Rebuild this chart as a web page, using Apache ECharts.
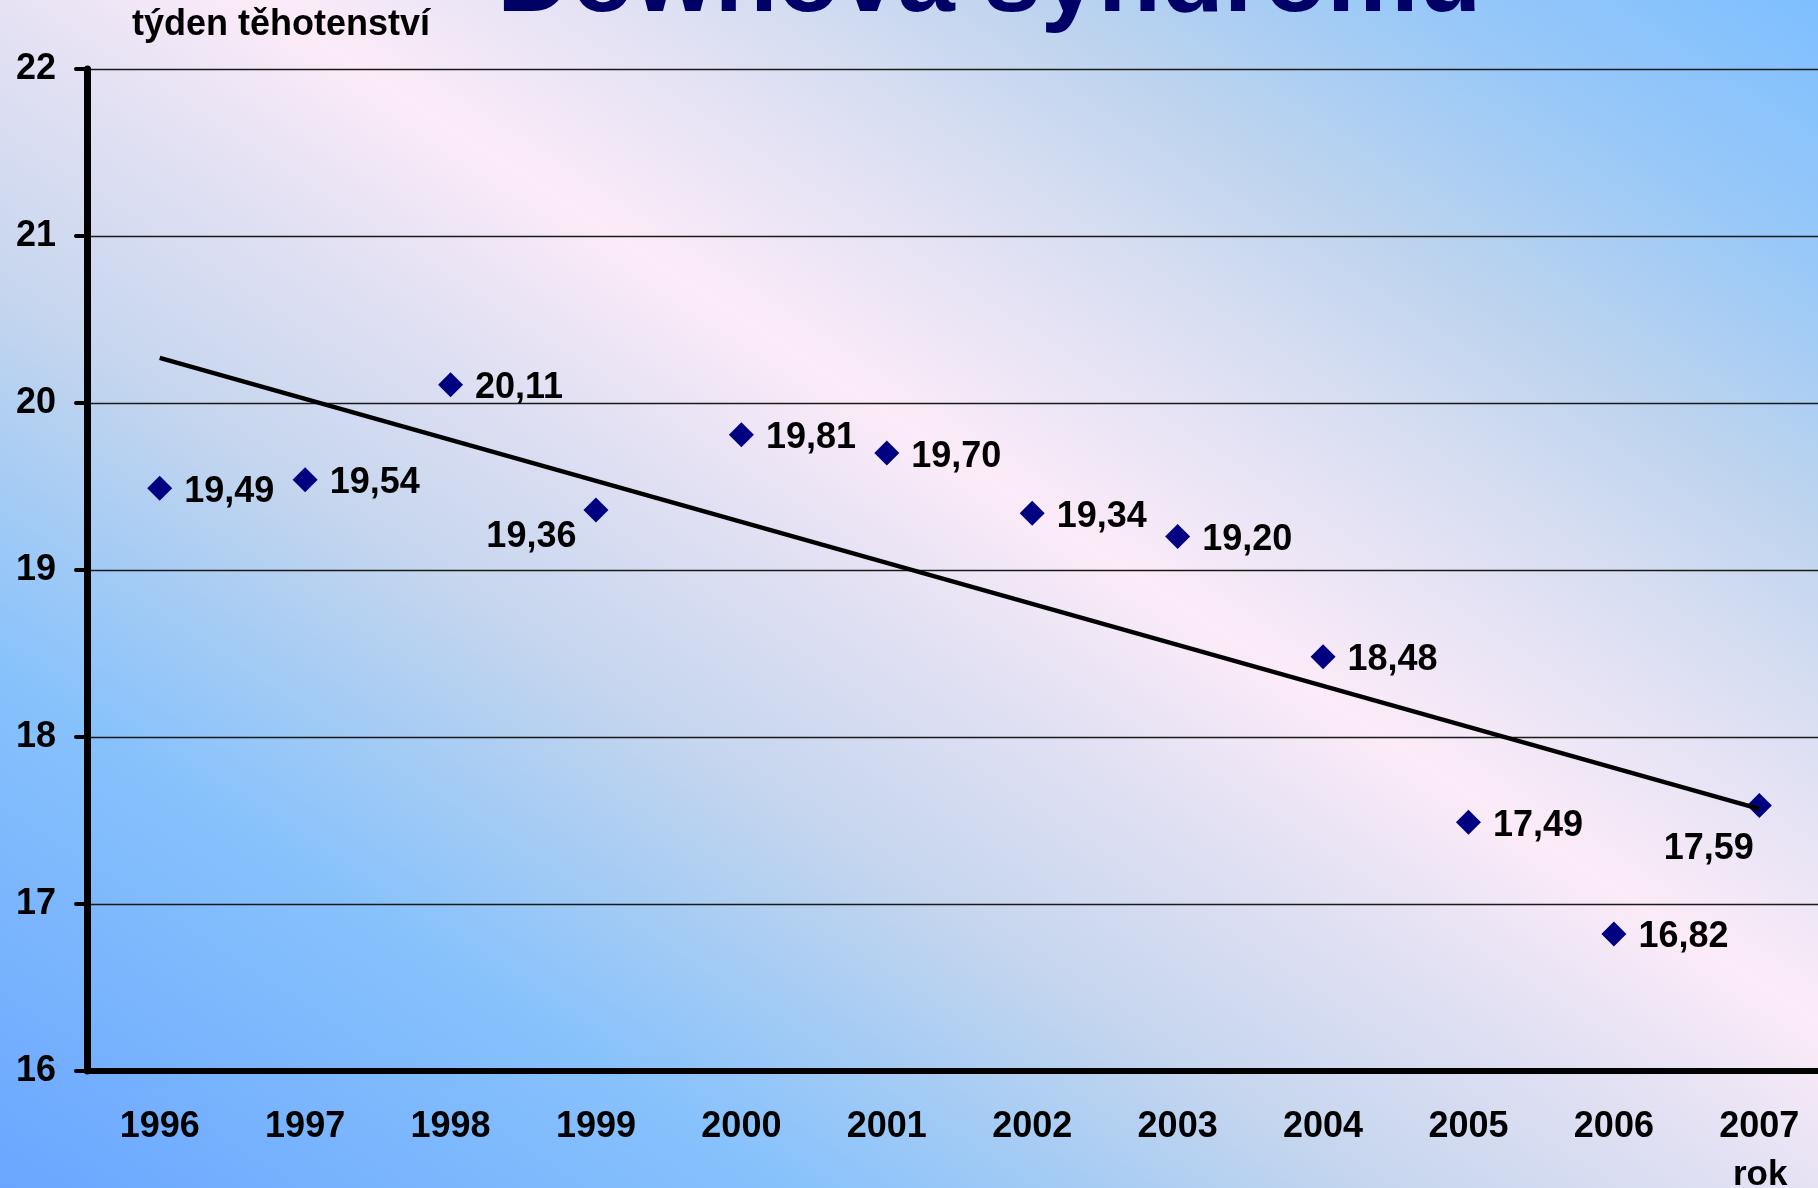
<!DOCTYPE html>
<html>
<head>
<meta charset="utf-8">
<title>Downova syndromu</title>
<script src="https://cdn.jsdelivr.net/npm/echarts@6/dist/echarts.min.js"></script>
<style>
	html, body { margin: 0; padding: 0; overflow: hidden; }
	#main { width: 1832px; height: 1188px; }
</style>
</head>
<body>
<div id="main"></div>
<script>
var years = [ '1996', '1997', '1998', '1999', '2000', '2001', '2002', '2003', '2004', '2005', '2006', '2007' ];
var weeks = [ 19.49, 19.54, 20.11, 19.36, 19.81, 19.70, 19.34, 19.20, 18.48, 17.49, 16.82, 17.59 ];
// trend line end points
var trendYears = [ '1996', '2007' ];
var trendWeeks = [ 20.27, 17.57 ];
var yMin = 16, yMax = 22, yStep = 1;

( function() {
	'use strict';
	var FONT = "'Liberation Sans', Arial, sans-serif";
	var chart = echarts.init( document.getElementById( 'main' ) );

	// labels that sit below-left of the diamond instead of right of it
	var lowLabels = {
		3: [ -7, 40 ],
		11: [ 7, 56 ]
	};

	var points = [];
	for ( var i = 0; i < weeks.length; i++ ) {
		var p = { value: weeks[ i ] };
		if ( lowLabels[ i ] ) {
			p.label = { position: lowLabels[ i ], align: 'right', verticalAlign: 'middle' };
		}
		points.push( p );
	}
	var trend = [];
	for ( var j = 0; j < trendYears.length; j++ ) {
		trend.push( [ trendYears[ j ], trendWeeks[ j ] ] );
	}

	var option = {
		animation: false,
		backgroundColor: {
			type: 'linear',
			global: true,
			x: 365, y: 1426, x2: 1453, y2: -238,
			colorStops: [
				{ offset: 0, color: '#6aa6ff' },
				{ offset: 0.22, color: '#88c2fc' },
				{ offset: 0.3, color: '#a6ccf4' },
				{ offset: 0.38, color: '#c6d6ee' },
				{ offset: 0.5, color: '#e6e2f4' },
				{ offset: 0.57, color: '#fcebf8' },
				{ offset: 0.7, color: '#d8def2' },
				{ offset: 0.78, color: '#bed4ee' },
				{ offset: 0.89, color: '#98c8f8' },
				{ offset: 1, color: '#7ebfff' }
			]
		},
		textStyle: { fontFamily: FONT },
		grid: { left: 87, right: 0, top: 69, bottom: 117, containLabel: false },
		graphic: [ {
			type: 'text',
			left: 497,
			top: -69,
			style: {
				text: 'Downova syndromu',
				font: 'bold 103px ' + FONT,
				fill: '#000066',
				textShadowColor: '#000000',
				textShadowOffsetX: 4,
				textShadowOffsetY: 4,
				textShadowBlur: 0
			}
		}, {
			type: 'text',
			left: 132,
			top: 7,
			style: {
				text: 'týden těhotenství',
				font: 'bold 36px ' + FONT,
				fill: '#000000'
			}
		}, {
			type: 'text',
			left: 1733,
			top: 1158,
			style: {
				text: 'rok',
				font: 'bold 35px ' + FONT,
				fill: '#000000'
			}
		} ],
		xAxis: {
			type: 'category',
			data: years,
			boundaryGap: true,
			axisLine: { lineStyle: { color: '#000', width: 6, cap: 'round' } },
			axisTick: { alignWithLabel: false, length: 11, lineStyle: { color: '#000', width: 4, cap: 'round' } },
			axisLabel: { margin: 38, color: '#000', fontSize: 36, fontWeight: 'bold', fontFamily: FONT },
			splitLine: { show: false }
		},
		yAxis: {
			type: 'value',
			min: yMin,
			max: yMax,
			interval: yStep,
			axisLine: { show: true, lineStyle: { color: '#000', width: 7, cap: 'round' } },
			axisTick: { show: true, length: 11, lineStyle: { color: '#000', width: 4, cap: 'round' } },
			axisLabel: { margin: 31, color: '#000', fontSize: 36, fontWeight: 'bold', fontFamily: FONT },
			splitLine: { lineStyle: { color: '#1a1a1a', width: 1.3 } }
		},
		series: [ {
			name: 'týden',
			type: 'scatter',
			z: 2,
			symbol: 'diamond',
			symbolSize: [ 25, 25 ],
			itemStyle: { color: '#000080', opacity: 1 },
			label: {
				show: true,
				position: [ 37, 16 ],
				align: 'left',
				verticalAlign: 'middle',
				color: '#000',
				fontSize: 36,
				fontWeight: 'bold',
				fontFamily: FONT,
				formatter: function( d ) {
					return d.value.toFixed( 2 ).replace( '.', ',' );
				}
			},
			data: points
		}, {
			name: 'trend',
			type: 'line',
			z: 3,
			symbol: 'none',
			lineStyle: { color: '#000', width: 4.5 },
			data: trend
		} ]
	};
	chart.setOption( option );
} )();
</script>
</body>
</html>
